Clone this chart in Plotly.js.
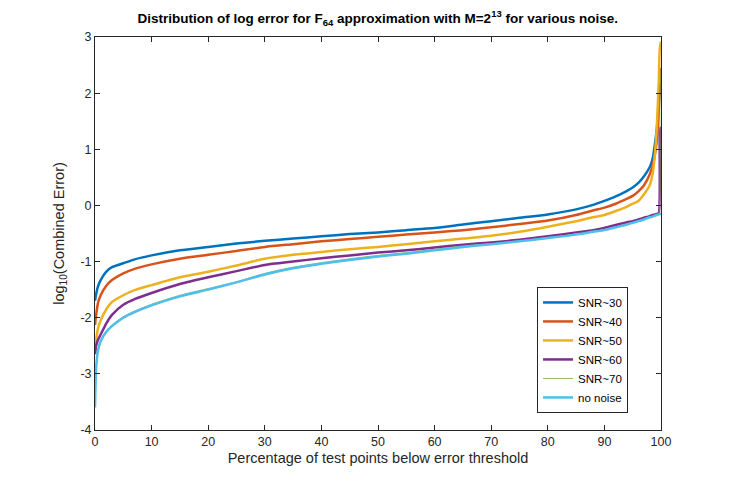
<!DOCTYPE html>
<html>
<head>
<meta charset="utf-8">
<script src="https://cdn.plot.ly/plotly-3.0.1.min.js"></script>
<style>html,body{margin:0;padding:0;background:#fff;}#chart{width:732px;height:482px;}</style>
</head>
<body>
<div id="chart"></div>
<script>
// Percentage of test points below error threshold
const pct = [0, 0.2, 0.5, 1, 2, 3, 5, 7, 10, 15, 20, 25, 30, 35, 40, 45, 50, 55, 60, 65, 70, 75, 80, 85, 88, 90, 92, 94, 95, 96, 97, 98, 98.5, 99, 99.3, 99.6, 99.8, 100];

const snr30 = [-1.70, -1.58, -1.45, -1.33, -1.18, -1.10, -1.03, -0.96, -0.89, -0.80, -0.74, -0.68, -0.63, -0.59, -0.55, -0.51, -0.48, -0.44, -0.40, -0.34, -0.28, -0.22, -0.16, -0.07, 0.01, 0.08, 0.16, 0.26, 0.32, 0.40, 0.52, 0.68, 0.82, 1.15, 1.40, 1.80, 2.10, 2.20];
const snr40 = [-2.13, -1.95, -1.75, -1.60, -1.43, -1.33, -1.21, -1.13, -1.05, -0.95, -0.88, -0.81, -0.74, -0.69, -0.64, -0.60, -0.56, -0.52, -0.48, -0.44, -0.39, -0.33, -0.27, -0.17, -0.09, -0.04, 0.03, 0.12, 0.17, 0.25, 0.36, 0.55, 0.70, 0.95, 1.20, 1.70, 2.20, 2.45];
const snr50 = [-2.62, -2.40, -2.20, -2.05, -1.85, -1.72, -1.60, -1.51, -1.42, -1.28, -1.18, -1.07, -0.95, -0.88, -0.83, -0.78, -0.74, -0.69, -0.64, -0.59, -0.54, -0.47, -0.38, -0.28, -0.21, -0.17, -0.10, -0.02, 0.03, 0.08, 0.20, 0.36, 0.55, 1.00, 1.50, 2.20, 2.80, 2.92];
const snr60 = [-2.65, -2.50, -2.40, -2.30, -2.10, -1.95, -1.77, -1.67, -1.56, -1.40, -1.28, -1.17, -1.06, -1.00, -0.94, -0.89, -0.84, -0.80, -0.75, -0.70, -0.66, -0.61, -0.55, -0.48, -0.44, -0.40, -0.35, -0.30, -0.28, -0.25, -0.22, -0.19, -0.17, -0.16, -0.15, -0.14, 1.30, 1.40];
const snr70 = [-3.50, -2.85, -2.58, -2.40, -2.23, -2.13, -1.98, -1.88, -1.76, -1.60, -1.48, -1.36, -1.21, -1.10, -1.02, -0.95, -0.89, -0.84, -0.78, -0.72, -0.68, -0.63, -0.57, -0.51, -0.46, -0.43, -0.38, -0.33, -0.30, -0.27, -0.24, -0.20, -0.19, -0.17, -0.16, -0.15, 2.00, 2.40];
const noNoise = [-3.60, -2.90, -2.60, -2.42, -2.25, -2.15, -2.00, -1.90, -1.78, -1.62, -1.50, -1.37, -1.23, -1.12, -1.04, -0.97, -0.91, -0.86, -0.80, -0.74, -0.69, -0.64, -0.58, -0.52, -0.47, -0.44, -0.39, -0.34, -0.31, -0.28, -0.25, -0.21, -0.20, -0.18, -0.17, -0.16, -0.155, -0.15];

const names = ['SNR~30', 'SNR~40', 'SNR~50', 'SNR~60', 'SNR~70', 'no noise'];
const series = [snr30, snr40, snr50, snr60, snr70, noNoise];
const colors = ['#0072BD', '#D95319', '#EDB120', '#7E2F8E', '#77AC30', '#4DBEEE'];
const widths = [2.5, 2.5, 2.5, 2.5, 0.8, 2.5];

const xTicks = [0, 10, 20, 30, 40, 50, 60, 70, 80, 90, 100];
const yTicks = [-4, -3, -2, -1, 0, 1, 2, 3];

const traces = series.map((s, i) => ({
  x: pct, y: s, name: names[i], type: 'scatter', mode: 'lines',
  line: {color: colors[i], width: widths[i], shape: 'spline', smoothing: 0.6}
}));

const axisCommon = {
  showgrid: false, zeroline: false, showline: true, mirror: 'ticks',
  linecolor: '#262626', linewidth: 1, ticks: 'inside', ticklen: 5,
  tickcolor: '#262626', tickfont: {family: 'Liberation Sans, Arial, sans-serif', size: 12.5, color: '#262626'}
};

const layout = {
  width: 732, height: 482,
  margin: {l: 95, r: 71, t: 37, b: 52},
  paper_bgcolor: '#fff', plot_bgcolor: '#fff',
  font: {family: 'Liberation Sans, Arial, sans-serif', color: '#262626', size: 12},
  title: {
    text: '<b>Distribution of log error for F<sub>64</sub> approximation with M=2<sup>13</sup> for various noise.</b>',
    font: {size: 13.5, color: '#000', family: 'Liberation Sans, Arial, sans-serif'},
    x: 0.516, xanchor: 'center', y: 0.962, yanchor: 'middle'
  },
  xaxis: Object.assign({}, axisCommon, {
    range: [0, 100], tickvals: xTicks, ticktext: xTicks.map(String),
    title: {text: 'Percentage of test points below error threshold', font: {size: 14.5, color: '#262626'}, standoff: 4}
  }),
  yaxis: Object.assign({}, axisCommon, {
    range: [-4, 3], tickvals: yTicks, ticktext: yTicks.map(String),
    title: {text: 'log<sub>10</sub>(Combined Error)', font: {size: 14.5, color: '#262626'}, standoff: 12}
  }),
  showlegend: true,
  legend: {
    x: 0.781, y: 0.364, xanchor: 'left', yanchor: 'top',
    bgcolor: '#fff', bordercolor: '#262626', borderwidth: 1,
    font: {size: 11.5, color: '#000'}, tracegroupgap: 0, itemwidth: 30
  }
};

Plotly.newPlot('chart', traces, layout, {displayModeBar: false, staticPlot: true});
</script>
</body>
</html>
